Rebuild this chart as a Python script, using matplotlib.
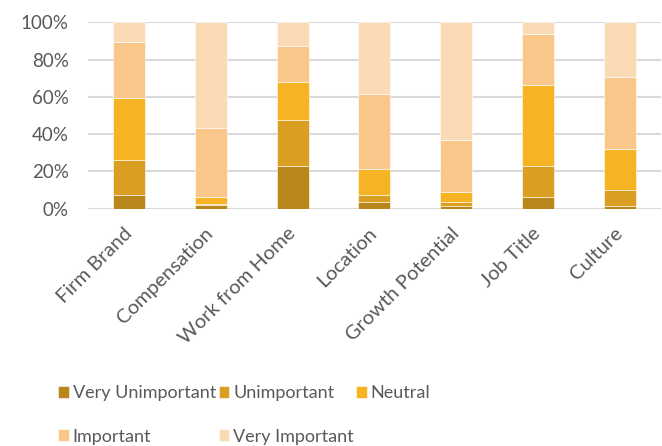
import numpy as np
import matplotlib
matplotlib.use('Agg')
import matplotlib.pyplot as plt
from matplotlib.ticker import PercentFormatter

# Dados (percentuais)
categorias = ['Firm Brand', 'Compensation', 'Work from Home', 'Location',
              'Growth Potential', 'Job Title', 'Culture']
niveis = ['Very Unimportant', 'Unimportant', 'Neutral', 'Important', 'Very Important']

very_unimportant = [7.0, 1.8, 22.7, 3.6, 1.4, 6.1, 1.3]
unimportant = [19.2, 0.7, 25.0, 3.5, 2.2, 16.6, 8.7]
neutral = [33.3, 3.6, 20.0, 14.0, 5.0, 43.4, 22.1]
important = [30.0, 37.0, 19.8, 40.5, 28.0, 27.8, 38.3]
very_important = [10.5, 56.9, 12.5, 38.4, 63.4, 6.1, 29.6]

cores = ['#B8861A', '#DA9E22', '#F6B324', '#F9C78A', '#FBDBB6']
cor_texto = '#595959'

plt.rcParams['font.family'] = ['Lato', 'DejaVu Sans']

fig = plt.figure(figsize=(6.62, 4.46), dpi=100)
ax = fig.add_axes([0.133, 0.5325, 0.865, 0.4175])

series = [very_unimportant, unimportant, neutral, important, very_important]
x = np.arange(len(categorias))
base = np.zeros(len(categorias))
barras = []
for nome, valores, cor in zip(niveis, series, cores):
    valores = np.array(valores) / 100
    b = ax.bar(x, valores, bottom=base, width=0.39, color=cor, label=nome,
               edgecolor='white', linewidth=0.4, zorder=3)
    barras.append(b)
    base += valores

ax.set_xlim(-0.5, len(categorias) - 0.5)
ax.set_ylim(0, 1)
ax.set_yticks(np.linspace(0, 1, 6))
ax.yaxis.set_major_formatter(PercentFormatter(1.0, decimals=0))
ax.grid(axis='y', color='#D9D9D9', linewidth=1.5, zorder=0)
for s in ax.spines.values():
    s.set_visible(False)
ax.tick_params(length=0, labelsize=13.5, colors=cor_texto)
ax.tick_params(axis='y', pad=14)
ax.set_xticks(x)
ax.set_xticklabels(categorias, rotation=45, ha='right', va='center',
                   rotation_mode='anchor', fontsize=14.5)
ax.tick_params(axis='x', pad=16)

# legenda em ordem por linhas (matplotlib preenche por colunas)
ordem = [0, 3, 1, 4, 2]
fig.legend([barras[i] for i in ordem], [niveis[i] for i in ordem],
           loc='upper left', bbox_to_anchor=(0.077, 0.152), ncol=3,
           frameon=False, fontsize=13, labelcolor=cor_texto,
           handlelength=0.6, handleheight=0.6, handletextpad=0.2,
           columnspacing=0.15, labelspacing=1.5, borderaxespad=0)

fig.savefig('out.png', dpi=100)
